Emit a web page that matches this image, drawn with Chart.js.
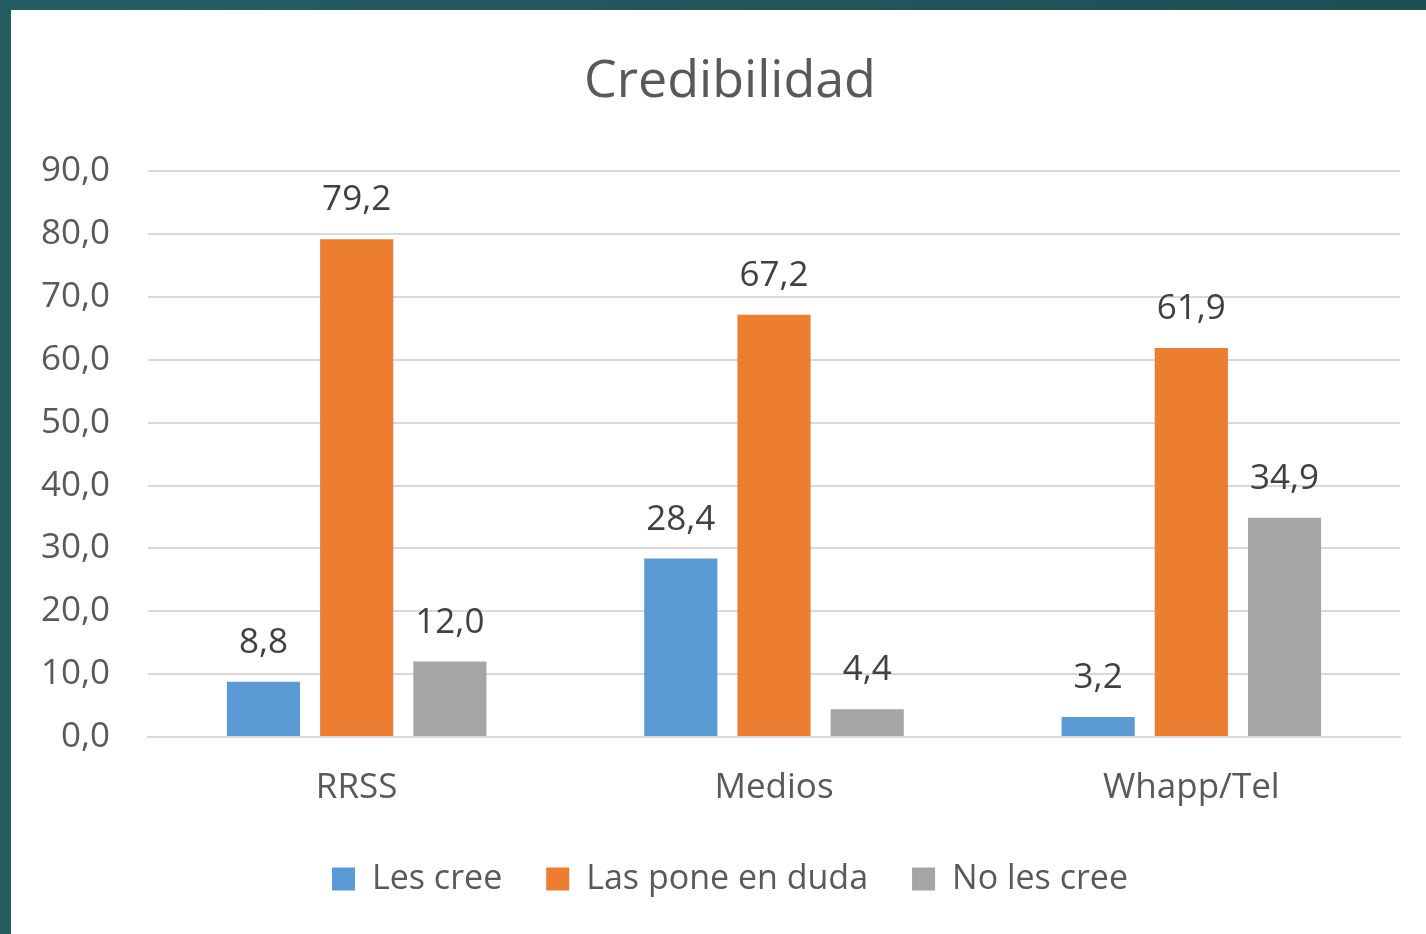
<!DOCTYPE html>
<html>
<head>
<meta charset="utf-8">
<script src="https://cdn.jsdelivr.net/npm/chart.js@4/dist/chart.umd.min.js"></script>
<style>
  html, body { margin: 0; padding: 0; }
  body { width: 1426px; height: 934px; background: linear-gradient(90deg, #255e60, #1f4e55); overflow: hidden; position: relative; }
  #wrap { position: absolute; left: 11px; top: 10px; width: 1415px; height: 924px; background: #fff; overflow: hidden; }
</style>
</head>
<body>
<div id="wrap"><canvas id="credChart" width="1438" height="924"></canvas></div>
<script>
var categories = ["RRSS", "Medios", "Whapp/Tel"];
var seriesNames = ["Les cree", "Las pone en duda", "No les cree"];
var lesCree = [8.8, 28.4, 3.2];
var ponenDuda = [79.2, 67.2, 61.9];
var noLesCree = [12.0, 4.4, 34.9];
var seriesColors = ["#5b9bd5", "#ed7d31", "#a5a5a5"];
var yTicks = [0, 10, 20, 30, 40, 50, 60, 70, 80, 90];

var fontFamily = "'Open Sans', sans-serif";

function fmt(v) {
  return v.toFixed(1).replace(".", ",");
}

var valueLabels = {
  id: "valueLabels",
  afterDatasetsDraw: function (chart) {
    var ctx = chart.ctx;
    ctx.save();
    ctx.font = "35px " + fontFamily;
    ctx.fillStyle = "#404040";
    ctx.textAlign = "center";
    ctx.textBaseline = "alphabetic";
    chart.data.datasets.forEach(function (ds, i) {
      var meta = chart.getDatasetMeta(i);
      meta.data.forEach(function (bar, j) {
        ctx.fillText(fmt(ds.data[j]), bar.x, bar.y - 29);
      });
    });
    ctx.restore();
  }
};

function initializeChart() {
  var el = document.getElementById("credChart");
  var allData = [lesCree, ponenDuda, noLesCree];
  new Chart(el, {
    type: "bar",
    data: {
      labels: categories,
      datasets: seriesNames.map(function (name, i) {
        return {
          label: name,
          data: allData[i],
          backgroundColor: seriesColors[i],
          borderWidth: 0,
          barPercentage: 0.785,
          categoryPercentage: 0.67
        };
      })
    },
    options: {
      responsive: false,
      animation: false,
      // canvas is a bit wider than the card (clipped), so title/legend sit right of centre
      layout: { padding: { left: 0, right: 0, top: 0, bottom: 28 } },
      plugins: {
        title: {
          display: true,
          text: "Credibilidad",
          color: "#595959",
          font: { family: fontFamily, size: 52, weight: "normal" },
          padding: { top: 41, bottom: 58 }
        },
        legend: {
          position: "bottom",
          labels: {
            color: "#595959",
            font: { family: fontFamily, size: 34 },
            boxWidth: 23,
            boxHeight: 23,
            padding: 44
          }
        },
        tooltip: { enabled: false }
      },
      scales: {
        x: {
          grid: { display: false },
          border: { display: true, color: "#d9d9d9", width: 2 },
          ticks: {
            color: "#595959",
            font: { family: fontFamily, size: 35 },
            padding: 22
          },
          afterFit: function (scale) { scale.height = 81; }
        },
        y: {
          min: 0,
          max: 90,
          afterBuildTicks: function (scale) {
            scale.ticks = yTicks.map(function (v) { return { value: v }; });
          },
          grid: { color: "#d9d9d9", lineWidth: 2, drawTicks: false },
          border: { display: false },
          ticks: {
            color: "#595959",
            font: { family: fontFamily, size: 35 },
            padding: 38,
            callback: function (v) { return fmt(v); }
          },
          afterFit: function (scale) { scale.width = 137; }
        },
        // empty spacer on the right
        yRight: {
          position: "right",
          min: 0,
          max: 90,
          grid: { display: false },
          border: { display: false },
          ticks: { display: false },
          afterFit: function (scale) { scale.width = 49; }
        }
      }
    },
    plugins: [valueLabels]
  });
}

window.onload = function () {
  initializeChart();
};
</script>
</body>
</html>
